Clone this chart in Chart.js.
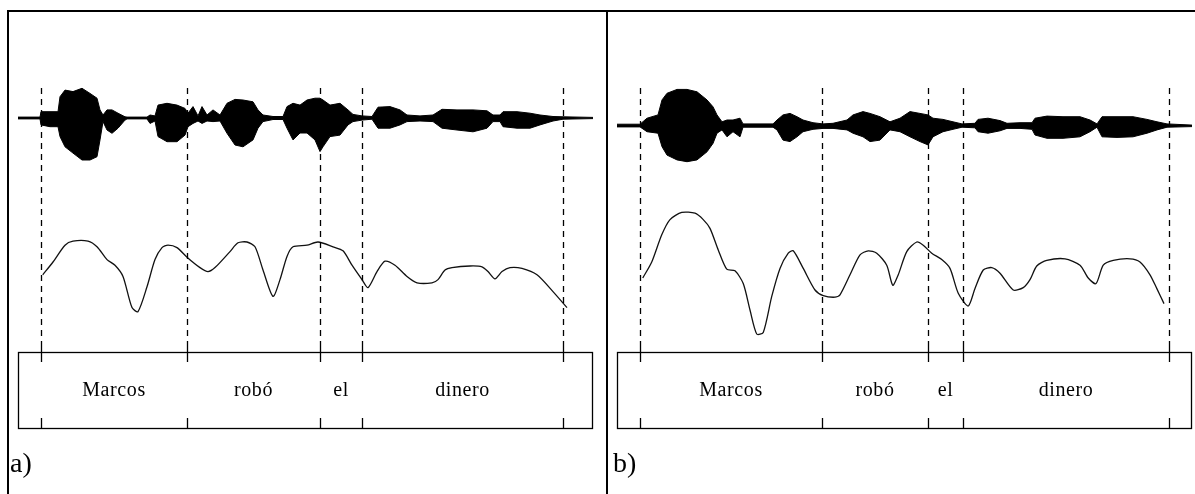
<!DOCTYPE html>
<html>
<head>
<meta charset="utf-8">
<script src="https://cdn.jsdelivr.net/npm/chart.js@4"></script>
<style>
  body { margin: 0; background: #fff; width: 1195px; height: 494px; overflow: hidden; position: relative; font-family: "Liberation Serif", serif; }
  #frame { position: absolute; left: 7px; top: 10px; width: 1300px; height: 600px; border-left: 2px solid #000; border-top: 2px solid #000; }
  #divider { position: absolute; left: 606px; top: 10px; width: 2px; height: 490px; background: #000; }
  .panel { position: absolute; top: 12px; height: 482px; }
  #panelA { left: 9px; width: 597px; }
  #panelB { left: 608px; width: 587px; }
  .tag { position: absolute; top: 447px; font-size: 28px; line-height: 32px; color: #000; }
</style>
</head>
<body>
<div id="frame"></div>
<div id="divider"></div>
<div class="panel" id="panelA"><canvas id="chartA"></canvas></div>
<div class="panel" id="panelB"><canvas id="chartB"></canvas></div>
<div class="tag" style="left:10px">a)</div>
<div class="tag" style="left:613px">b)</div>
<script>
// words of the utterance
const words = ['Marcos', 'robó', 'el', 'dinero'];

// a) waveform envelope (time in ms, amplitude relative)
const waveTimeA = [0,88,92,128,160,168,188,220,256,288,316,328,340,356,376,400,428,436,516,528,548,560,596,636,668,680,700,720,736,756,780,808,836,868,900,940,960,980,1020,1060,1076,1100,1128,1156,1188,1208,1220,1248,1288,1320,1340,1376,1416,1440,1488,1528,1556,1608,1660,1696,1756,1820,1876,1900,1928,1940,1996,2048,2088,2140,2180,2300];
const waveUpA = [0.03,0.03,0.21,0.21,0.21,0.71,0.93,0.88,0.99,0.82,0.66,0.27,0.1,0.27,0.27,0.16,0.04,0.03,0.03,0.1,0.07,0.43,0.49,0.43,0.32,0.16,0.38,0.07,0.38,0.1,0.27,0.1,0.49,0.62,0.6,0.54,0.27,0.1,0.05,0.05,0.38,0.49,0.43,0.6,0.66,0.66,0.6,0.43,0.49,0.27,0.12,0.07,0.05,0.36,0.38,0.27,0.1,0.07,0.1,0.29,0.27,0.27,0.24,0.1,0.1,0.21,0.21,0.16,0.1,0.05,0.04,0.02];
const waveLoA = [-0.03,-0.03,-0.23,-0.29,-0.29,-0.62,-0.96,-1.17,-1.4,-1.4,-1.29,-0.73,-0.12,-0.4,-0.51,-0.34,-0.07,-0.03,-0.03,-0.18,-0.1,-0.62,-0.79,-0.79,-0.57,-0.29,-0.18,-0.1,-0.18,-0.1,-0.12,-0.1,-0.51,-0.9,-0.96,-0.73,-0.34,-0.12,-0.05,-0.05,-0.34,-0.73,-0.5,-0.5,-0.73,-1.12,-0.96,-0.62,-0.57,-0.23,-0.12,-0.07,-0.04,-0.34,-0.34,-0.23,-0.12,-0.1,-0.12,-0.34,-0.4,-0.46,-0.34,-0.12,-0.12,-0.29,-0.34,-0.34,-0.23,-0.1,-0.04,-0.02];
// a) pitch contour (ms, Hz)
const pitchTimeA = [99,140,188,220,280,316,356,388,420,456,480,516,548,576,600,636,676,728,760,788,848,880,916,948,980,1020,1048,1076,1100,1156,1200,1260,1300,1336,1376,1400,1436,1468,1508,1556,1596,1656,1680,1708,1736,1808,1856,1880,1908,1936,1968,2016,2076,2140,2196];
const pitchHzA = [169,185,206,211,211,204,188,181,167,128,123,154,188,203,206,203,191,178,173,178,198,209,210,204,175,142,163,192,204,206,210,204,199,181,163,153,173,186,181,167,159,159,163,175,178,180,179,173,164,173,178,177,169,148,128];
// a) word boundaries (ms)
const boundsA = [92, 676, 1208, 1376, 2180];

// b) waveform envelope
const waveTimeB = [0,92,120,164,180,200,240,280,320,360,384,400,420,440,464,492,504,624,640,664,692,720,744,784,824,864,920,944,984,1012,1052,1092,1132,1172,1212,1244,1264,1304,1344,1380,1432,1444,1484,1532,1560,1612,1660,1672,1720,1784,1852,1892,1920,1940,2000,2064,2120,2160,2200,2300];
const waveUpB = [0.06,0.06,0.26,0.37,0.87,1.09,1.22,1.22,1.14,0.87,0.64,0.37,0.14,0.2,0.2,0.26,0.07,0.07,0.2,0.37,0.42,0.31,0.2,0.11,0.07,0.09,0.2,0.37,0.48,0.42,0.31,0.14,0.26,0.48,0.42,0.37,0.26,0.22,0.14,0.07,0.09,0.22,0.26,0.18,0.09,0.11,0.11,0.26,0.33,0.31,0.31,0.2,0.07,0.31,0.31,0.31,0.22,0.14,0.07,0.03];
const waveLoB = [-0.03,-0.03,-0.19,-0.24,-0.69,-0.97,-1.13,-1.19,-1.13,-0.86,-0.58,-0.24,-0.13,-0.36,-0.19,-0.36,-0.04,-0.04,-0.13,-0.47,-0.52,-0.36,-0.19,-0.11,-0.08,-0.08,-0.13,-0.24,-0.36,-0.52,-0.47,-0.13,-0.19,-0.36,-0.52,-0.63,-0.36,-0.19,-0.11,-0.04,-0.06,-0.19,-0.24,-0.16,-0.08,-0.08,-0.11,-0.3,-0.41,-0.41,-0.36,-0.19,-0.04,-0.36,-0.38,-0.36,-0.24,-0.13,-0.04,-0.02];
// b) pitch contour
const pitchTimeB = [103,139,179,212,259,312,345,372,405,439,472,505,532,559,585,619,652,685,705,745,792,825,872,892,932,972,1005,1039,1079,1103,1125,1159,1199,1225,1259,1299,1332,1365,1405,1432,1465,1499,1532,1585,1625,1652,1679,1719,1792,1852,1885,1916,1945,1985,2052,2092,2132,2159,2188];
const pitchHzB = [165,185,219,238,247,246,238,227,200,176,174,158,125,95,97,142,177,196,199,177,150,143,141,144,169,194,199,196,181,156,169,198,210,206,196,188,177,146,130,152,175,178,171,150,153,163,180,187,189,181,165,158,181,187,189,185,169,152,133];
// b) word boundaries
const boundsB = [92, 820, 1244, 1384, 2208];

function segmentPlugin(bounds) {
  return {
    id: 'segments',
    afterDatasetsDraw(chart) {
      const ctx = chart.ctx, x = chart.scales.x, area = chart.chartArea;
      const dashTop = area.top + 48, boxTop = area.top + 312, boxBottom = area.top + 388;
      ctx.save();
      ctx.strokeStyle = '#000';
      ctx.lineWidth = 1.3;
      ctx.strokeRect(area.left + 0.5, boxTop + 0.5, area.right - area.left - 1, boxBottom - boxTop);
      bounds.forEach(b => {
        const px = Math.round(x.getPixelForValue(b)) + 0.5;
        ctx.setLineDash([6, 5]);
        ctx.beginPath();
        ctx.moveTo(px, dashTop);
        ctx.lineTo(px, boxTop - 6);
        ctx.stroke();
        ctx.setLineDash([]);
        ctx.beginPath();
        ctx.moveTo(px, boxTop - 6);
        ctx.lineTo(px, boxTop + 10);
        ctx.moveTo(px, boxBottom - 10);
        ctx.lineTo(px, boxBottom);
        ctx.stroke();
      });
      ctx.fillStyle = '#000';
      ctx.font = '20px "Liberation Serif"';
      ctx.letterSpacing = '0.6px';
      ctx.textAlign = 'center';
      ctx.textBaseline = 'middle';
      words.forEach((w, i) => {
        const mid = (x.getPixelForValue(bounds[i]) + x.getPixelForValue(bounds[i + 1])) / 2;
        ctx.fillText(w, mid, (boxTop + boxBottom) / 2 + 1);
      });
      ctx.restore();
    }
  };
}

function makeChart(id, waveTime, waveUp, waveLo, pitchTime, pitchHz, bounds, wave, pad) {
  return new Chart(id, {
    type: 'line',
    data: {
      datasets: [
        {
          data: waveTime.map((t, i) => ({ x: t, y: waveUp[i] })),
          yAxisID: 'yWave', borderColor: '#000', borderWidth: 1, pointRadius: 0, fill: false
        },
        {
          data: waveTime.map((t, i) => ({ x: t, y: waveLo[i] })),
          yAxisID: 'yWave', borderColor: '#000', borderWidth: 1, pointRadius: 0,
          fill: '-1', backgroundColor: '#000'
        },
        {
          data: pitchTime.map((t, i) => ({ x: t, y: pitchHz[i] })),
          yAxisID: 'yPitch', borderColor: '#111', borderWidth: 1.3, pointRadius: 0,
          tension: 0.25, fill: false
        }
      ]
    },
    options: {
      animation: false,
      responsive: true,
      maintainAspectRatio: false,
      devicePixelRatio: 1,
      layout: { padding: { left: 9, right: pad, top: 28, bottom: 54 } },
      plugins: { legend: { display: false }, tooltip: { enabled: false } },
      scales: {
        x: { type: 'linear', min: 0, max: 2300, display: false },
        yWave: { type: 'linear', min: wave[0], max: wave[1], display: false },
        yPitch: { type: 'linear', min: -37.5, max: 462.5, display: false }
      }
    },
    plugins: [segmentPlugin(bounds)]
  });
}

makeChart('chartA', waveTimeA, waveUpA, waveLoA, pitchTimeA, pitchHzA, boundsA, [-10.733, 2.6], 13);
makeChart('chartB', waveTimeB, waveUpB, waveLoB, pitchTimeB, pitchHzB, boundsB, [-10.467, 2.867], 3);
</script>
</body>
</html>
